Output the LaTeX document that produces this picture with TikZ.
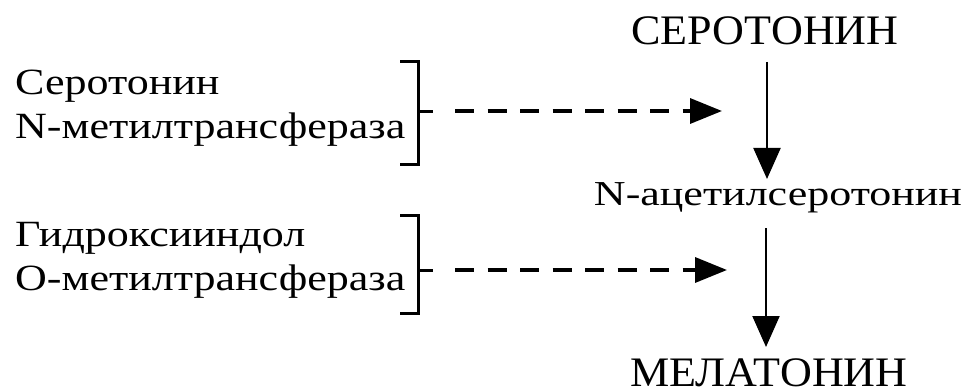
\documentclass[tikz,border=0pt]{standalone}
\usepackage{fontspec}
\usepackage{graphicx}
\setmainfont{Liberation Serif}
\usetikzlibrary{arrows.meta}
\newcommand{\lw}[1]{\scalebox{1.19}[1]{#1}}
\newcommand{\mw}[1]{\scalebox{1.257}[1]{#1}}
\newcommand{\cw}[1]{\scalebox{1.05}[1]{#1}}
\begin{document}
\begin{tikzpicture}[x=1pt,y=-1pt,
  lbl/.style={inner sep=0pt,text depth=0pt,font=\fontsize{37}{43}\selectfont},
  captxt/.style={inner sep=0pt,text depth=0pt,font=\fontsize{42}{48}\selectfont},
  midtxt/.style={inner sep=0pt,text depth=0pt,font=\fontsize{35}{41}\selectfont},
  brk/.style={line width=3pt},
  vline/.style={line width=2.2pt,-{Triangle[length=31pt,width=27pt]}},
  dline/.style={line width=3.5pt,dash pattern=on 19pt off 13.5pt,-{Triangle[length=32pt,width=25pt]}}]
\useasboundingbox (0,0) rectangle (968,390);
\node[lbl,anchor=base west] (t1) at (15,95) {\lw{Серотонин}};
\node[lbl,anchor=base west] (t2) at (15,139) {\lw{N-метилтрансфераза}};
\node[lbl,anchor=base west] (t3) at (15,246) {\lw{Гидроксииндол}};
\node[lbl,anchor=base west] (t4) at (15,290) {\lw{О-метилтрансфераза}};
\node[captxt,anchor=base] (ser) at (765,45) {\cw{СЕРОТОНИН}};
\node[midtxt,anchor=base] (acet) at (778,205) {\mw{N-ацетилсеротонин}};
\node[captxt,anchor=base] (mel) at (769,386) {\cw{МЕЛАТОНИН}};
\draw[brk] (400,62) -- (418,62) -- (418,165) -- (400,165);
\draw[brk] (418,112) -- (433,112);
\draw[brk] (400,215) -- (418,215) -- (418,313) -- (400,313);
\draw[brk] (418,270) -- (433,270);
\coordinate (d1s) at (455,111);
\coordinate (d1e) at (722,111);
\coordinate (d2s) at (455,270);
\coordinate (d2e) at (727,270);
\draw[dline] (d1s) -- (d1e);
\draw[dline] (d2s) -- (d2e);
\coordinate (v1s) at (767,62);
\coordinate (v1e) at (767,179);
\coordinate (v2s) at (766,228);
\coordinate (v2e) at (766,347);
\draw[vline] (v1s) -- (v1e);
\draw[vline] (v2s) -- (v2e);
\end{tikzpicture}
\end{document}
